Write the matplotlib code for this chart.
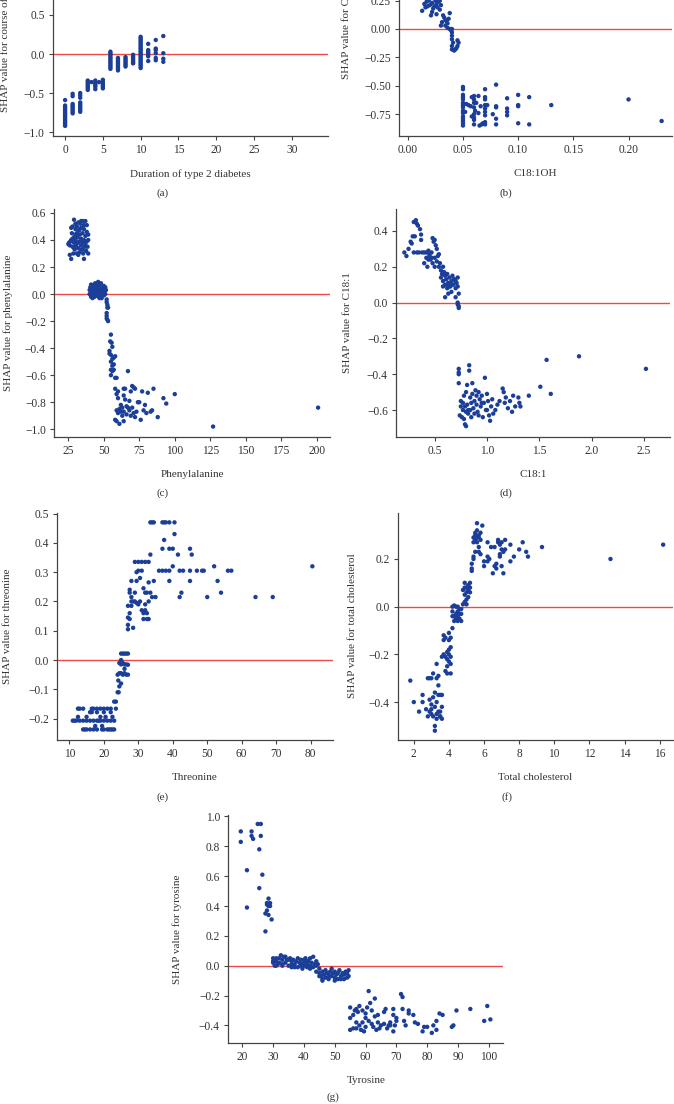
import matplotlib
matplotlib.use("Agg")
import matplotlib.pyplot as plt

plt.rcParams['font.family'] = ['Liberation Serif', 'DejaVu Serif']
plt.rcParams['axes.unicode_minus'] = True

# ---------------- data ----------------
# (a) Duration of type 2 diabetes
a_x = [0, 0, 0, 0, 0, 0, 0, 0, 0, 0, 0, 0, 0, 0, 0,
       1, 1, 1, 1, 1, 1, 1, 1, 1,
       2, 2, 2, 2, 2, 2, 2, 2, 2, 2,
       3, 3, 3, 3, 3, 3, 3, 3.5,
       4, 4, 4, 4, 4, 4, 4.5,
       5, 5, 5, 5, 5, 5,
       6, 6, 6, 6, 6, 6, 6, 6, 6, 6, 6, 6,
       7, 7, 7, 7, 7, 7, 7, 7, 7,
       8, 8, 8, 8, 8, 8, 8,
       9, 9, 9, 9, 9, 9, 9,
       10, 10, 10, 10, 10, 10, 10, 10, 10, 10, 10, 10, 10, 10, 10, 10, 10, 10, 10, 10, 10,
       11, 11, 11, 11, 11, 11, 11,
       12, 12, 12, 12, 12, 12,
       13, 13, 13, 13]
a_y = [-0.59, -0.66, -0.68, -0.70, -0.72, -0.74, -0.76, -0.78, -0.80, -0.82, -0.84, -0.86, -0.88, -0.90, -0.92,
       -0.51, -0.54, -0.64, -0.66, -0.68, -0.70, -0.72, -0.74, -0.76,
       -0.50, -0.53, -0.56, -0.62, -0.64, -0.66, -0.68, -0.70, -0.72, -0.74,
       -0.34, -0.36, -0.38, -0.40, -0.42, -0.44, -0.46, -0.36,
       -0.34, -0.36, -0.38, -0.40, -0.42, -0.45, -0.36,
       -0.33, -0.36, -0.38, -0.40, -0.42, -0.44,
       0.03, 0.01, -0.01, -0.03, -0.05, -0.07, -0.09, -0.11, -0.13, -0.15, -0.17, -0.19,
       -0.05, -0.07, -0.09, -0.11, -0.13, -0.15, -0.17, -0.19, -0.21,
       -0.04, -0.06, -0.08, -0.10, -0.12, -0.14, -0.16,
       -0.01, -0.03, -0.05, -0.07, -0.09, -0.11, -0.12,
       0.22, 0.20, 0.18, 0.16, 0.14, 0.12, 0.10, 0.08, 0.06, 0.04, 0.02, 0.0, -0.02, -0.04, -0.06, -0.08, -0.10, -0.12, -0.14, -0.16, -0.18,
       0.13, 0.05, 0.03, 0.01, -0.01, -0.03, -0.09,
       0.18, 0.07, 0.05, 0.01, -0.05, -0.08,
       0.23, 0.01, -0.06, -0.10]

# (b) C18:1OH
b_x = [0.013, 0.021, 0.015, 0.018, 0.020, 0.022, 0.024, 0.026, 0.028, 0.030, 0.016, 0.019, 0.023, 0.025, 0.027, 0.029, 0.017, 0.022, 0.026, 0.029,
       0.032, 0.033, 0.034, 0.035, 0.036, 0.037, 0.038, 0.030, 0.031, 0.034, 0.036, 0.038, 0.039, 0.040, 0.040,
       0.040, 0.040, 0.041, 0.040, 0.040, 0.042, 0.045, 0.046, 0.045, 0.044, 0.043,
       0.05, 0.05, 0.05, 0.05, 0.05, 0.05, 0.05, 0.05, 0.05, 0.05, 0.05, 0.05, 0.05, 0.05, 0.05,
       0.052, 0.053, 0.055, 0.057, 0.058, 0.058,
       0.06, 0.06, 0.06, 0.06, 0.06, 0.06, 0.06, 0.06, 0.061, 0.062,
       0.064, 0.064, 0.065, 0.066, 0.067,
       0.07, 0.07, 0.07, 0.07, 0.07, 0.07, 0.07, 0.07, 0.07, 0.072, 0.068,
       0.077, 0.08, 0.08, 0.08, 0.08, 0.08, 0.09, 0.09, 0.09, 0.09,
       0.10, 0.10, 0.10, 0.10, 0.11, 0.11, 0.13, 0.20, 0.23]
b_y = [0.16, 0.12, 0.22, 0.20, 0.21, 0.23, 0.20, 0.22, 0.24, 0.21, 0.19, 0.25, 0.18, 0.25, 0.19, 0.17, 0.24, 0.15, 0.13, 0.25,
       0.12, 0.10, 0.08, 0.07, 0.05, 0.09, 0.14, 0.03, 0.06, 0.03, 0.01, 0.0, -0.01, 0.0, -0.03,
       -0.06, -0.09, -0.12, -0.15, -0.18, -0.19, -0.10, -0.12, -0.15, -0.17, -0.18,
       -0.51, -0.53, -0.58, -0.60, -0.62, -0.65, -0.67, -0.69, -0.72, -0.74, -0.77, -0.79, -0.81, -0.83, -0.85,
       -0.73, -0.66, -0.67, -0.68, -0.77, -0.60,
       -0.59, -0.62, -0.65, -0.69, -0.75, -0.78, -0.80, -0.84, -0.72, -0.65,
       -0.59, -0.74, -0.85, -0.68, -0.84,
       -0.53, -0.60, -0.62, -0.67, -0.70, -0.73, -0.76, -0.82, -0.84, -0.67, -0.83,
       -0.75, -0.49, -0.68, -0.69, -0.79, -0.84, -0.61, -0.70, -0.73, -0.76,
       -0.58, -0.67, -0.68, -0.83, -0.60, -0.84, -0.67, -0.62, -0.81]

# (c) Phenylalanine
c_x = [25, 25.5, 26, 26, 27, 27, 27.5, 28, 28, 28.5, 29, 29, 29, 29.5, 30, 30, 30, 30.5, 31, 31, 31, 31.5, 32, 32, 32, 32.5,
       33, 33, 33, 33.5, 34, 34, 34, 34.5, 35, 35, 35, 35.5, 36, 36, 36, 36.5, 37, 37, 37, 37.5, 38, 38, 38, 38.5, 39, 39, 39,
       29, 28, 30, 31, 33, 35, 26.5, 27, 34, 36, 32,
       40, 40, 40.5, 41, 41, 41.5, 42, 42, 42.5, 43, 43, 43.5, 44, 44, 44.5, 45, 45, 45.5, 46, 46, 46.5, 47, 47, 47.5,
       48, 48, 48.5, 49, 49, 49.5, 50, 50, 50.5, 51, 51, 51.5, 43, 45, 47, 42, 44, 46, 48, 50, 41,
       52, 52, 52.5, 52.5, 52, 52, 52.5, 53, 53, 52,
       55, 54.5, 55.5, 54, 54, 55, 56, 55, 56, 57, 58, 57, 56, 55, 55, 57, 58, 59, 56,
       58, 59, 59, 58, 59, 60, 60, 60, 61, 61, 62, 62, 63, 63, 64, 64, 64, 64, 65, 65, 66, 66, 67, 67, 68, 68,
       69, 69, 70, 70, 71, 71, 72, 72, 73, 74, 75, 76, 77, 78, 79, 80, 81, 83, 84, 85, 88, 92, 94, 100, 127, 201]
c_y = [0.37, 0.38, 0.36, 0.29, 0.26, 0.40, 0.45, 0.50, 0.35, 0.30, 0.55, 0.42, 0.38, 0.33, 0.48, 0.52, 0.40, 0.36, 0.45, 0.30, 0.50, 0.42, 0.38, 0.53, 0.34, 0.47,
       0.44, 0.31, 0.39, 0.52, 0.36, 0.41, 0.49, 0.33, 0.54, 0.45, 0.38, 0.30, 0.26, 0.40, 0.48, 0.35, 0.54, 0.43, 0.37, 0.32, 0.46, 0.39, 0.51, 0.35, 0.40, 0.30, 0.44,
       0.34, 0.41, 0.44, 0.38, 0.48, 0.33, 0.39, 0.49, 0.54, 0.51, 0.29,
       0.03, 0.0, 0.05, -0.02, 0.04, 0.01, 0.06, -0.03, 0.02, 0.07, 0.0, -0.02, 0.04, 0.08, 0.01, 0.06, -0.01, 0.03, 0.09, 0.05, -0.02, 0.02, 0.07, 0.0,
       0.04, 0.08, -0.03, 0.01, 0.05, 0.03, 0.06, -0.01, 0.02, 0.05, 0.0, 0.03, 0.04, 0.02, -0.03, 0.02, -0.01, 0.01, 0.01, 0.04, 0.07,
       -0.04, -0.06, -0.08, -0.10, -0.14, -0.16, -0.19, -0.20, -0.10, -0.18,
       -0.30, -0.35, -0.36, -0.42, -0.44, -0.45, -0.39, -0.50, -0.48, -0.47, -0.46, -0.52, -0.53, -0.56, -0.60, -0.56, -0.62, -0.62, -0.57,
       -0.70, -0.74, -0.86, -0.93, -0.94, -0.72, -0.77, -0.88, -0.85, -0.96, -0.82, -0.87, -0.90, -0.84, -0.70, -0.75, -0.87, -0.94, -0.70, -0.78, -0.83, -0.89, -0.57, -0.84, -0.86, -0.79,
       -0.72, -0.90, -0.68, -0.84, -0.69, -0.88, -0.70, -0.91, -0.87, -0.80, -0.80, -0.93, -0.72, -0.86, -0.82, -0.88, -0.73, -0.87, -0.86, -0.70, -0.91, -0.77, -0.81, -0.74, -0.98, -0.84]

# (d) C18:1
d_x = [0.21, 0.23, 0.25, 0.27, 0.28, 0.29, 0.30, 0.31, 0.32, 0.33, 0.34, 0.36, 0.37, 0.37, 0.30, 0.33, 0.35, 0.38, 0.40, 0.42,
       0.44, 0.45, 0.42, 0.40, 0.43, 0.45, 0.46, 0.47, 0.48, 0.49, 0.50, 0.51, 0.52, 0.48, 0.50, 0.50, 0.52, 0.53, 0.54, 0.55,
       0.56, 0.57, 0.58, 0.56, 0.58, 0.60, 0.60, 0.61, 0.62, 0.62, 0.63, 0.64, 0.65, 0.66, 0.66, 0.67, 0.68, 0.69, 0.70, 0.70,
       0.71, 0.72, 0.72, 0.73, 0.60, 0.63, 0.70, 0.54, 0.47, 0.44, 0.59, 0.64, 0.68, 0.58, 0.62, 0.66,
       0.72, 0.73, 0.73, 0.72,
       0.73, 0.73, 0.73, 0.73, 0.74, 0.75, 0.76, 0.77, 0.77, 0.78, 0.78, 0.79, 0.79, 0.80, 0.80, 0.81, 0.81, 0.82, 0.82, 0.83,
       0.83, 0.84, 0.85, 0.85, 0.86, 0.87, 0.88, 0.88, 0.90, 0.90, 0.91, 0.92, 0.93, 0.94, 0.95, 0.96, 0.97, 0.98, 0.99, 1.00,
       1.01, 1.02, 1.03, 1.04, 1.05, 1.06, 1.08, 1.10, 1.12, 1.15, 1.16, 1.17, 1.18, 1.20, 1.22, 1.24, 1.25, 1.27, 1.30, 1.31,
       1.32, 1.40, 1.51, 1.57, 1.61, 1.88, 2.52, 0.86, 0.75, 0.80, 0.84, 0.92, 1.00, 0.95, 0.89]
d_y = [0.28, 0.26, 0.30, 0.34, 0.33, 0.37, 0.45, 0.37, 0.46, 0.44, 0.43, 0.41, 0.38, 0.35, 0.28, 0.28, 0.28, 0.28, 0.28, 0.28,
       0.29, 0.27, 0.25, 0.22, 0.20, 0.26, 0.24, 0.28, 0.36, 0.34, 0.35, 0.32, 0.30, 0.22, 0.25, 0.20, 0.23, 0.26, 0.20, 0.22,
       0.18, 0.16, 0.20, 0.14, 0.12, 0.15, 0.10, 0.13, 0.08, 0.16, 0.11, 0.14, 0.09, 0.12, 0.06, 0.15, 0.10, 0.13, 0.08, 0.12,
       0.11, 0.14, 0.09, 0.05, 0.03, 0.05, 0.03, 0.27, 0.25, 0.24, 0.17, 0.09, 0.13, 0.09, 0.10, 0.10,
       -0.01, -0.02, -0.03, 0.0,
       -0.37, -0.39, -0.45, -0.40, -0.63, -0.55, -0.64, -0.56, -0.60, -0.52, -0.65, -0.58, -0.68, -0.69, -0.50, -0.46, -0.57, -0.60, -0.62, -0.35,
       -0.38, -0.53, -0.56, -0.64, -0.51, -0.59, -0.55, -0.62, -0.52, -0.57, -0.61, -0.50, -0.54, -0.58, -0.52, -0.64, -0.56, -0.42, -0.60, -0.51,
       -0.55, -0.63, -0.66, -0.58, -0.54, -0.62, -0.60, -0.57, -0.55, -0.48, -0.50, -0.56, -0.53, -0.59, -0.55, -0.61, -0.52, -0.58, -0.53, -0.56,
       -0.58, -0.52, -0.47, -0.32, -0.51, -0.30, -0.37, -0.45, -0.58, -0.61, -0.60, -0.63, -0.60, -0.56, -0.49]

# (e) Threonine
e_x = [14, 14.5, 15, 16, 17, 18, 19.5, 20, 21, 21.5, 22, 22.5, 23,
       11, 11.5, 12, 13, 14, 15, 16, 17, 18, 18.5, 19, 20, 21, 22, 23,
       12.5, 15, 19, 20.5, 22.5,
       12.5, 13, 14, 16.5, 17, 18, 19, 20, 21, 22, 23.5,
       16, 16.5, 18, 20, 22, 17.5, 19.5, 23, 23.5,
       24, 24.3, 24.5, 24.2, 24, 24.5, 25, 25, 25.5, 26, 26.5, 27, 24.5, 25, 25.5, 26, 26.5, 27, 25, 25, 25.5, 26, 26.5, 27, 24.8, 26,
       27, 27, 27, 27, 27.5, 27.5, 27.5, 27.5, 28, 28, 28, 28, 28.5, 28.5, 29, 29, 29, 29.5, 29.5, 29.5, 30, 30, 30, 30.5, 30.5,
       31, 31, 31, 31.5, 31.5, 31.5, 32, 32, 32, 32, 32.5, 32.5, 32.5, 33, 33, 33, 33, 33.5, 33.5, 33.5, 34, 34, 34.5, 34.5, 35,
       36, 37, 37, 37, 37.5, 37.5, 38, 38, 39, 39, 39, 39, 40, 40, 40.5, 40.5, 41.5, 42, 42, 42.5, 43, 45, 45, 45, 45.5, 47, 48.5,
       49, 50, 52, 53, 54, 56, 57, 64, 69, 80.5]
e_y = [-0.237, -0.237, -0.237, -0.237, -0.237, -0.237, -0.237, -0.237, -0.237, -0.237, -0.237, -0.237, -0.237,
       -0.207, -0.207, -0.207, -0.207, -0.207, -0.207, -0.207, -0.207, -0.207, -0.207, -0.207, -0.207, -0.207, -0.207, -0.207,
       -0.194, -0.194, -0.194, -0.194, -0.194,
       -0.166, -0.166, -0.166, -0.166, -0.166, -0.166, -0.166, -0.166, -0.166, -0.166, -0.166,
       -0.178, -0.178, -0.178, -0.178, -0.178, -0.225, -0.225, -0.142, -0.142,
       -0.11, -0.11, -0.09, -0.07, -0.05, -0.045, -0.045, -0.08, -0.05, -0.045, -0.05, -0.05, -0.01, -0.015, -0.01, -0.015, -0.015, -0.016, 0.0, 0.022, 0.022, 0.022, 0.022, 0.022, -0.01, -0.03,
       0.105, 0.12, 0.145, 0.185, 0.14, 0.16, 0.23, 0.24, 0.27, 0.185, 0.215, 0.20, 0.11, 0.20, 0.23, 0.335, 0.20, 0.195, 0.27, 0.30, 0.305, 0.335, 0.19, 0.20, 0.28,
       0.305, 0.335, 0.17, 0.14, 0.16, 0.245, 0.335, 0.23, 0.17, 0.19, 0.14, 0.16, 0.23, 0.335, 0.265, 0.14, 0.20, 0.36, 0.23, 0.47, 0.47, 0.215, 0.47, 0.27, 0.215,
       0.305, 0.305, 0.38, 0.47, 0.47, 0.41, 0.47, 0.305, 0.47, 0.38, 0.27, 0.305, 0.32, 0.38, 0.43, 0.47, 0.36, 0.215, 0.305, 0.23, 0.305, 0.305, 0.27, 0.38, 0.36, 0.305, 0.305,
       0.305, 0.215, 0.32, 0.27, 0.23, 0.305, 0.305, 0.215, 0.215, 0.32]

# (f) Total cholesterol
f_x = [1.8, 2.0, 2.3, 2.5, 2.5, 2.7, 2.8, 2.8, 2.9, 2.9, 3.0, 3.0, 3.0, 3.1, 3.1, 3.1, 3.2, 3.2, 3.2, 3.2, 3.3, 3.3, 3.3, 3.4, 3.4,
       3.4, 3.5, 3.5, 3.5, 3.6, 3.6, 3.0, 3.3, 2.9, 3.6, 3.3, 3.5, 3.4,
       3.7, 3.7, 3.8, 3.8, 3.9, 3.9, 3.9, 3.9, 4.0, 4.0, 4.0, 4.0, 4.1, 4.1, 4.1, 4.1, 4.2, 4.1, 3.8, 3.7, 3.6, 4.0,
       4.2, 4.2, 4.3, 4.3, 4.4, 4.4, 4.5, 4.5, 4.6, 4.6, 4.7, 4.7, 4.3, 4.4, 4.5, 4.6, 4.2, 4.7, 4.5, 4.4,
       4.8, 4.9, 5.0, 4.9, 5.0, 5.0, 5.1, 5.1, 5.2, 5.2, 4.9, 4.9, 5.0, 5.1, 5.2, 4.8, 5.3, 5.3, 5.3, 5.4, 5.4, 5.5, 5.4, 5.4, 5.5,
       5.5, 5.6, 5.6, 5.6, 5.7, 5.7, 5.7, 5.8, 5.8, 5.8, 5.9, 5.5, 5.6, 5.7,
       6.0, 6.0, 6.2, 6.2, 6.3, 6.4, 6.5, 6.6, 6.7, 6.7, 6.8, 6.8, 6.9, 6.9, 7.0, 7.0, 7.1, 7.1, 7.2, 7.2, 7.5, 7.5, 7.7, 8.0, 8.2,
       8.4, 8.5, 9.3, 13.2, 16.2, 6.6, 6.9, 7.0, 6.2]
f_y = [-0.31, -0.40, -0.44, -0.37, -0.40, -0.43, -0.30, -0.46, -0.30, -0.39, -0.30, -0.41, -0.45, -0.38, -0.28, -0.46, -0.36, -0.42, -0.50, -0.52, -0.24, -0.40, -0.45, -0.33, -0.37,
       -0.29, -0.37, -0.44, -0.46, -0.37, -0.42, -0.43, -0.47, -0.44, -0.47, -0.30, -0.46, -0.44,
       -0.12, -0.14, -0.21, -0.13, -0.19, -0.22, -0.25, -0.28, -0.18, -0.20, -0.23, -0.14, -0.17, -0.21, -0.24, -0.13, -0.09, -0.28, -0.27, -0.20, -0.21, -0.11,
       0.0, -0.02, -0.04, 0.005, -0.03, -0.05, -0.02, -0.04, -0.01, -0.05, -0.03, -0.06, -0.06, 0.0, -0.06, -0.03, -0.04, -0.01, 0.0, -0.04,
       0.01, 0.02, 0.01, 0.05, 0.06, 0.08, 0.07, 0.09, 0.06, 0.08, 0.08, 0.10, 0.03, 0.04, 0.10, 0.07, 0.16, 0.15, 0.18, 0.20, 0.21, 0.23, 0.27, 0.29, 0.28,
       0.30, 0.32, 0.35, 0.27, 0.29, 0.25, 0.30, 0.28, 0.22, 0.31, 0.34, 0.31, 0.29, 0.23,
       0.19, 0.17, 0.27, 0.21, 0.20, 0.25, 0.14, 0.25, 0.18, 0.16, 0.28, 0.27, 0.22, 0.26, 0.24, 0.17, 0.23, 0.14, 0.28, 0.24, 0.26, 0.19, 0.21, 0.24, 0.27,
       0.23, 0.21, 0.25, 0.20, 0.26, 0.17, 0.21, 0.27, 0.19]

# (g) Tyrosine
g_x = [19.5, 19.5, 21.5, 21.5, 23, 23, 23.5, 25, 25.5, 25.5, 26, 26, 26.5, 27.5, 27.5, 28, 28, 28.5, 28.5, 29, 29, 29.5, 28.5, 28,
       30, 30, 30.5, 31, 31, 31.5, 32, 32.5, 33, 33, 33.5, 34, 34.5, 35, 35.5, 36, 36, 36.5, 37, 37.5, 38, 38, 38.5, 39, 39, 39.5,
       40, 40, 40.5, 41, 41, 41.5, 42, 42, 42.5, 43, 43, 43.5, 44, 44, 44.5, 45, 32, 34, 37, 35, 40, 42, 30, 31, 33, 39, 41, 36,
       45, 45.5, 46, 46, 46.5, 47, 47, 47.5, 48, 48, 48.5, 49, 49, 49.5, 50, 50, 50.5, 51, 51, 51.5, 52, 52.5, 53, 53, 53.5, 54, 54,
       54.5, 54.5, 46, 48, 50, 52, 44, 45,
       55, 55, 56, 56, 56.5, 57, 57, 57.5, 58, 58, 58.5, 59, 59, 59.5, 60, 60, 60.5, 61, 61, 61.5, 62, 62, 62.5, 63, 63, 63.5, 64,
       64.5, 65, 66, 66, 66.5, 67, 67.5, 68, 69, 69, 69, 69.5, 70, 70, 71.5, 72, 72, 72.5, 73, 74, 74, 75.5, 76, 77, 78.5, 79, 80,
       81.5, 82, 83, 83, 84, 85, 88, 88.5, 89.5, 94, 98.5, 99.5, 100.5, 55, 57, 60, 64, 68]
g_y = [0.90, 0.83, 0.64, 0.39, 0.90, 0.87, 0.85, 0.95, 0.52, 0.78, 0.95, 0.87, 0.61, 0.35, 0.23, 0.41, 0.37, 0.45, 0.34, 0.40, 0.42, 0.31, 0.40, 0.42,
       0.05, 0.02, 0.0, 0.03, 0.05, 0.01, 0.02, 0.07, 0.04, 0.0, 0.06, 0.02, 0.04, 0.0, 0.05, 0.03, -0.01, 0.04, 0.01, 0.03, 0.05, -0.01, 0.02, 0.0, 0.04, -0.02,
       0.02, 0.0, 0.05, 0.01, -0.01, 0.03, 0.0, 0.05, 0.02, 0.06, -0.01, 0.01, 0.03, 0.0, 0.01, -0.02, 0.05, 0.06, -0.01, 0.04, 0.04, -0.02, 0.03, 0.0, 0.01, 0.01, 0.03, 0.01,
       -0.05, -0.07, -0.04, -0.09, -0.06, -0.08, -0.03, -0.05, -0.09, -0.06, -0.04, -0.07, -0.02, -0.05, -0.08, -0.04, -0.06, -0.09, -0.05, -0.03, -0.07, -0.05, -0.09, -0.06, -0.04, -0.08, -0.05,
       -0.07, -0.03, -0.10, -0.08, -0.10, -0.09, -0.04, -0.07,
       -0.28, -0.43, -0.33, -0.42, -0.30, -0.29, -0.38, -0.31, -0.40, -0.27, -0.43, -0.38, -0.30, -0.44, -0.35, -0.41, -0.28, -0.37, -0.17, -0.25, -0.39, -0.30, -0.41, -0.22, -0.34, -0.43, -0.38,
       -0.42, -0.40, -0.31, -0.39, -0.29, -0.42, -0.40, -0.38, -0.44, -0.33, -0.29, -0.40, -0.35, -0.37, -0.19, -0.21, -0.29, -0.37, -0.40, -0.30, -0.32, -0.33, -0.38, -0.39, -0.44, -0.41, -0.41,
       -0.45, -0.40, -0.37, -0.43, -0.32, -0.33, -0.41, -0.40, -0.30, -0.29, -0.37, -0.27, -0.36, -0.35, -0.42, -0.32, -0.33, -0.40]

panel_letters = ["(a)", "(b)", "(c)", "(d)", "(e)", "(f)", "(g)"]
x_labels = ["Duration of type 2 diabetes", "C18:1OH", "Phenylalanine", "C18:1", "Threonine", "Total cholesterol", "Tyrosine"]
y_labels = ["SHAP value for course of disease", "SHAP value for C18:1OH", "SHAP value for phenylalanine",
            "SHAP value for C18:1", "SHAP value for threonine", "SHAP value for total cholesterol", "SHAP value for tyrosine"]
x_ticks = [[0, 5, 10, 15, 20, 25, 30], [0.00, 0.05, 0.10, 0.15, 0.20], [25, 50, 75, 100, 125, 150, 175, 200],
           [0.5, 1.0, 1.5, 2.0, 2.5], [10, 20, 30, 40, 50, 60, 70, 80], [2, 4, 6, 8, 10, 12, 14, 16],
           [20, 30, 40, 50, 60, 70, 80, 90, 100]]
y_ticks = [[-1.0, -0.5, 0.0, 0.5, 1.0, 1.5], [-0.75, -0.50, -0.25, 0.00, 0.25, 0.50, 0.75, 1.00],
           [-1.0, -0.8, -0.6, -0.4, -0.2, 0.0, 0.2, 0.4, 0.6], [-0.6, -0.4, -0.2, 0.0, 0.2, 0.4],
           [-0.2, -0.1, 0.0, 0.1, 0.2, 0.3, 0.4, 0.5], [-0.4, -0.2, 0.0, 0.2],
           [-0.4, -0.2, 0.0, 0.2, 0.4, 0.6, 0.8, 1.0]]
x_lims = [(-1.6, 34.8), (-0.0077, 0.2394), (15.1, 209.4), (0.133, 2.75), (6.5, 86.4), (1.1, 16.76), (15.45, 104.7)]
y_lims = [(-1.05, 1.87), (-0.942, 1.065), (-1.055, 0.627), (-0.749, 0.521), (-0.273, 0.503), (-0.559, 0.394), (-0.516, 1.01)]
xs = [a_x, b_x, c_x, d_x, e_x, f_x, g_x]
ys = [a_y, b_y, c_y, d_y, e_y, f_y, g_y]

# ---------------- layout (pixels) ----------------
W, H = 674, 1104
boxes = [(53, -92, 328, 136), (399.3, -92, 672, 136), (54.3, 209.3, 330, 436.7), (396.3, 209.3, 670, 436.7),
         (57.3, 512.7, 332.7, 740), (398, 512.7, 673, 740), (228.3, 815, 503.3, 1042.7)]
letter_pos = [(163, 193), (506, 193), (163, 493), (506, 493), (163, 797), (507, 797), (333, 1097)]
# y-label: (x centre, y anchor, vertical alignment)
ylab_pos = [(6, 112, 'bottom'), (347, 79, 'bottom'), (8, 323, 'center'), (348, 323, 'center'),
            (8, 626, 'center'), (352, 626, 'center'), (177, 929, 'center')]

BLUE = '#1b3f98'
RED = '#f04848'
SPINE = '#444444'
TXT = '#333333'

fig = plt.figure(figsize=(W / 100, H / 100), dpi=100)
for i in range(7):
    l, t, r, b = boxes[i]
    ax = fig.add_axes([l / W, 1 - b / H, (r - l) / W, (b - t) / H])
    ax.axhline(0, color=RED, lw=1.0, zorder=1)
    ax.scatter(xs[i], ys[i], s=10, color=BLUE, edgecolors='none', zorder=2)
    ax.set_xlim(*x_lims[i])
    ax.set_ylim(*y_lims[i])
    ax.set_xticks(x_ticks[i])
    ax.set_yticks(y_ticks[i])
    for s in ['top', 'right']:
        ax.spines[s].set_visible(False)
    for s in ['left', 'bottom']:
        ax.spines[s].set_color(SPINE)
        ax.spines[s].set_linewidth(0.9)
    ax.tick_params(axis='both', length=3, width=0.8, color=SPINE, labelsize=8.3, labelcolor=TXT, pad=3)
    ax.set_xlabel(x_labels[i], fontsize=8, color=TXT, labelpad=9)
    yx, yy, yva = ylab_pos[i]
    fig.text(yx / W, 1 - yy / H, y_labels[i], rotation=90, fontsize=8, color=TXT, ha='center', va=yva)
    fig.text(letter_pos[i][0] / W, 1 - letter_pos[i][1] / H, panel_letters[i], fontsize=8, color=TXT,
             ha='center', va='center')

fig.savefig('out.png', dpi=100)
